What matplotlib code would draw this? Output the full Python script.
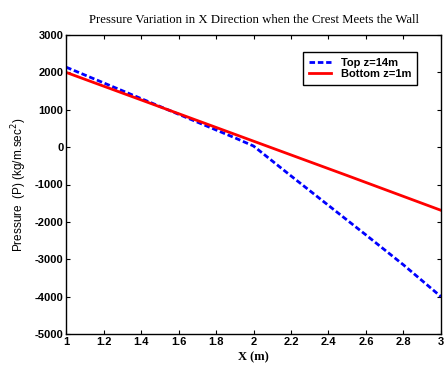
import matplotlib
matplotlib.use("Agg")
import matplotlib.pyplot as plt

plt.rcParams["axes.unicode_minus"] = False

x_top = [1.0, 1.2, 1.4, 1.6, 1.8, 1.9, 2.0, 2.2, 2.4, 2.6, 2.8, 3.0]
p_top = [2140, 1720, 1300, 880, 460, 250, 30, -770, -1560, -2350, -3150, -4000]
x_bot = [1.0, 1.5, 2.0, 2.5, 3.0]
p_bot = [2000, 1080, 160, -760, -1690]
xticks = [1, 1.2, 1.4, 1.6, 1.8, 2, 2.2, 2.4, 2.6, 2.8, 3]
xtick_labels = ["1", "1.2", "1.4", "1.6", "1.8", "2", "2.2", "2.4", "2.6", "2.8", "3"]
yticks = [3000, 2000, 1000, 0, -1000, -2000, -3000, -4000, -5000]

sans = ["Liberation Sans Narrow", "Liberation Sans", "DejaVu Sans"]
serif = ["Liberation Serif", "DejaVu Serif"]

fig = plt.figure(figsize=(4.44, 3.69), dpi=100)
ax = fig.add_axes([0.149, 0.095, 0.844, 0.81])
ax.plot(x_top, p_top, color="#0000ff", linestyle=(0, (2.0, 1.0)), linewidth=2.0, label="Top z=14m")
ax.plot(x_bot, p_bot, color="#ff0000", linestyle="-", linewidth=2.0, label="Bottom z=1m")
ax.set_xlim(1, 3)
ax.set_ylim(-5000, 3000)
ax.set_xticks(xticks)
ax.set_xticklabels(xtick_labels)
ax.set_yticks(yticks)
ax.tick_params(direction="in", top=True, right=True, length=3, width=0.8, labelsize=8, pad=2)
for lab in ax.get_xticklabels() + ax.get_yticklabels():
    lab.set_fontfamily(sans)
    lab.set_fontweight("bold")
for s in ax.spines.values():
    s.set_linewidth(1.0)
ax.set_title("Pressure Variation in X Direction when the Crest Meets the Wall",
             fontfamily=serif, fontsize=9.2, pad=9)
ax.set_xlabel("X (m)", fontfamily=serif, fontweight="bold", fontsize=9, labelpad=3)
ax.set_ylabel("Pressure  (P) (kg/m.sec$^2$)", fontfamily=sans, fontsize=8.5, labelpad=4)
leg = ax.legend(loc="upper left", bbox_to_anchor=(0.633, 0.943), frameon=True, fancybox=False,
                edgecolor="black", framealpha=1, prop={"family": sans, "weight": "bold", "size": 8},
                handlelength=1.9, borderpad=0.55, labelspacing=0.1, handletextpad=0.9,
                borderaxespad=0.0)
leg.get_frame().set_linewidth(1.0)
fig.savefig("out.png", dpi=100)
